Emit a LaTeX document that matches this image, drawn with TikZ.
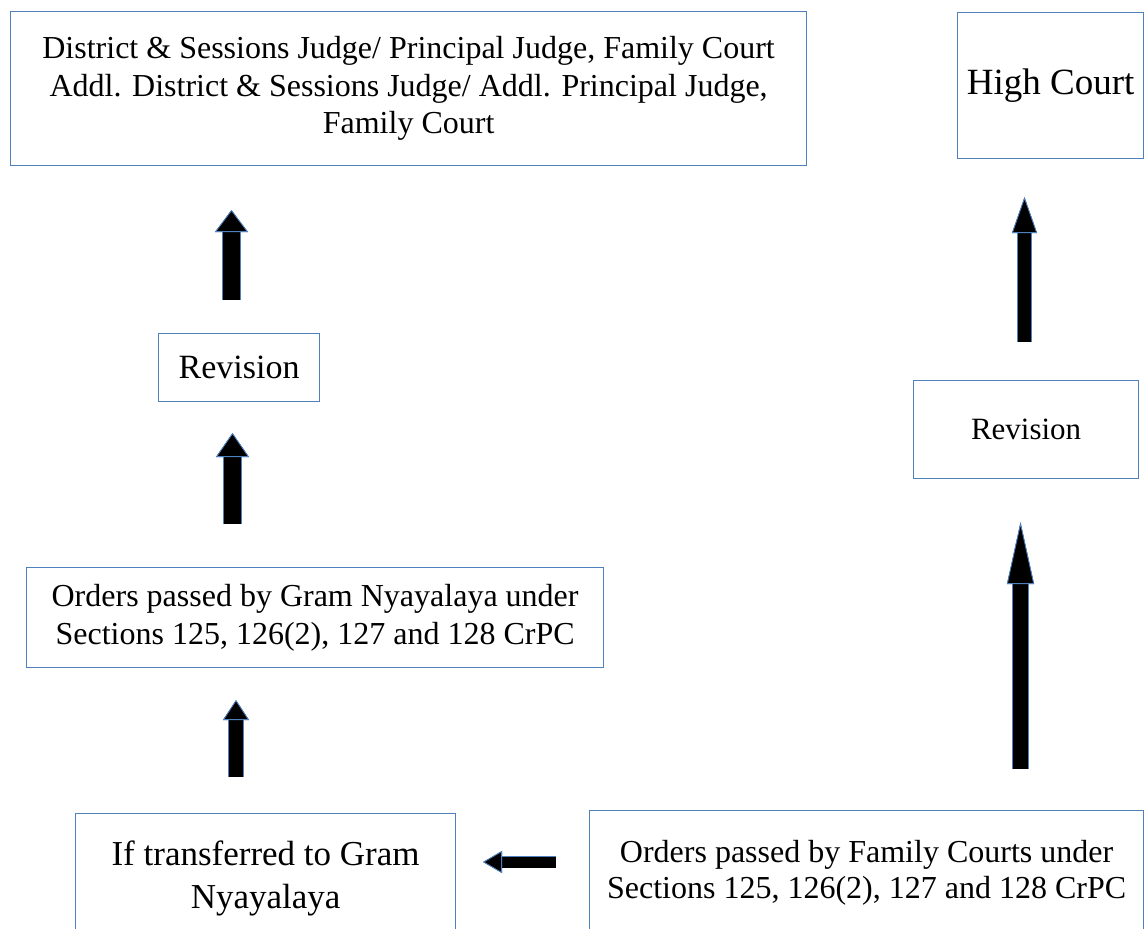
\documentclass[tikz,border=0pt]{standalone}
\usepackage{fontspec}
\setmainfont{Liberation Serif}
\usetikzlibrary{arrows.meta, positioning}

\definecolor{boxblue}{RGB}{79,129,189}

\tikzset{
    courtbox/.style={draw=boxblue, line width=1.2pt, fill=white,
        anchor=north west, align=center, inner sep=0pt, text=black},
    blockarrow/.style n args={3}{
        preaction={draw=boxblue, line width=#1+1.6pt,
            -{Triangle[length=#2, width=#3, line width=0.8pt, color=boxblue, fill=black]}},
        draw=black, line width=#1,
        -{Triangle[length=#2, width=#3, line width=0.8pt, color=boxblue, fill=black]}}
}

\begin{document}
\begin{tikzpicture}[x=1pt, y=-1pt]

        \clip (0,0) rectangle (1147,928);
        \useasboundingbox (0,0) rectangle (1147,928);

        % Add the courts
        \node[courtbox,
            minimum width=796pt,
            minimum height=154pt,
            font=\fontsize{32}{37.5}\selectfont] (dsj) at (10,11)
            {District \& Sessions Judge/ Principal Judge, Family Court\\
             Addl. District \& Sessions Judge/ Addl. Principal Judge,\\
             Family Court};
        \node[courtbox,
            minimum width=186pt,
            minimum height=146pt,
            font=\fontsize{37}{44}\selectfont] (hc) at (957,12) {High Court};

        % Add the revisions
        \node[courtbox,
            minimum width=161pt,
            minimum height=68pt,
            font=\fontsize{34}{40}\selectfont] (rev_l) at (158,333) {Revision};
        \node[courtbox,
            minimum width=225pt,
            minimum height=98pt,
            font=\fontsize{31}{37}\selectfont] (rev_r) at (913,380) {Revision};

        % Add the orders
        \node[courtbox,
            minimum width=577pt,
            minimum height=100pt,
            font=\fontsize{32}{38}\selectfont] (gn) at (26,567)
            {Orders passed by Gram Nyayalaya under\\
             Sections 125, 126(2), 127 and 128 CrPC};
        \node[courtbox,
            minimum width=380pt,
            minimum height=130pt,
            font=\fontsize{35}{43}\selectfont] (trans) at (75,813)
            {If transferred to Gram\\ Nyayalaya};
        \node[courtbox,
            minimum width=554pt,
            minimum height=125pt,
            font=\fontsize{32}{36}\selectfont] (fc) at (589,810)
            {Orders passed by Family Courts under\\
             Sections 125, 126(2), 127 and 128 CrPC};

        % Ends of the block arrows
        \coordinate (a1s) at (231.5,300);  \coordinate (a1e) at (231.5,210);
        \coordinate (a2s) at (232.5,524);  \coordinate (a2e) at (232.5,433);
        \coordinate (a3s) at (236,777);    \coordinate (a3e) at (236,700);
        \coordinate (a4s) at (1024.5,342); \coordinate (a4e) at (1024.5,197);
        \coordinate (a5s) at (1020.5,769); \coordinate (a5e) at (1020.5,522);
        \coordinate (a6s) at (556,862);    \coordinate (a6e) at (483,862);

        % Connect the boxes with block arrows
        \draw[blockarrow={17pt}{22pt}{33pt}] (a1s) -- (a1e);
        \draw[blockarrow={17pt}{24pt}{33pt}] (a2s) -- (a2e);
        \draw[blockarrow={14pt}{20pt}{26pt}] (a3s) -- (a3e);
        \draw[blockarrow={13pt}{36pt}{25pt}] (a4s) -- (a4e);
        \draw[blockarrow={15pt}{62pt}{27pt}] (a5s) -- (a5e);
        \draw[blockarrow={11pt}{19pt}{22pt}] (a6s) -- (a6e);
\end{tikzpicture}
\end{document}
